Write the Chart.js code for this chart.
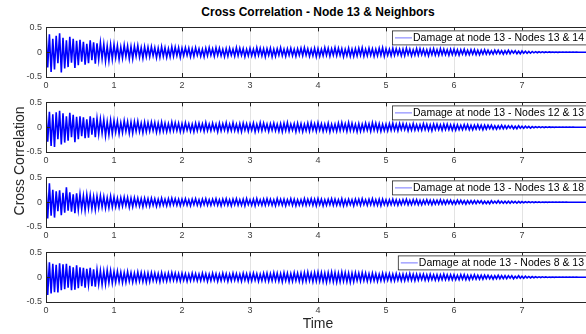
<!DOCTYPE html>
<html>
<head>
<meta charset="utf-8">
<script src="https://cdn.jsdelivr.net/npm/chart.js@4.4.1/dist/chart.umd.min.js"></script>
<style>
  html, body { margin: 0; padding: 0; background: #fff; overflow: hidden; }
  #wrap { position: relative; width: 586px; height: 334px; overflow: hidden;
          font-family: "Liberation Sans", Arial, sans-serif; }
  .panel { position: absolute; left: 0; width: 600px; height: 75px; }
  .title { position: absolute; left: 118px; width: 400px; top: 5px; text-align: center;
           font-weight: bold; font-size: 12px; color: #000; white-space: nowrap; }
  .xlabel { position: absolute; left: 268px; width: 100px; top: 315px; text-align: center;
            font-size: 14px; color: #262626; }
  .ylabel { position: absolute; left: 19px; top: 162px; width: 200px; margin-left: -100px;
            margin-top: -9px; text-align: center; font-size: 14px; color: #262626;
            transform: rotate(-90deg); white-space: nowrap; }
</style>
</head>
<body>
<div id="wrap">
  <div class="title">Cross Correlation - Node 13 &amp; Neighbors</div>
  <div class="panel" style="top:18px"><canvas id="c0" width="600" height="75"></canvas></div>
  <div class="panel" style="top:93px"><canvas id="c1" width="600" height="75"></canvas></div>
  <div class="panel" style="top:168px"><canvas id="c2" width="600" height="75"></canvas></div>
  <div class="panel" style="top:243px"><canvas id="c3" width="600" height="75"></canvas></div>
  <div class="ylabel">Cross Correlation</div>
  <div class="xlabel">Time</div>
</div>
<script>
// Sampling interval of the correlation sequences (seconds)
const TIME_STEP = 0.025;

const X_TICKS = [0, 1, 2, 3, 4, 5, 6, 7, 8];
const Y_TICKS = [-0.5, 0, 0.5];

const LEGEND_LABELS = [
  'Damage at node 13 - Nodes 13 & 14',
  'Damage at node 13 - Nodes 12 & 13',
  'Damage at node 13 - Nodes 13 & 18',
  'Damage at node 13 - Nodes 8 & 13'
];

// Nodes 13 & 14
const corr13_14 = [
  0.42,-0.31,0.36,-0.40,0.27,-0.35,0.33,-0.22,0.38,-0.41,
  0.29,-0.33,0.24,-0.30,0.31,-0.21,0.27,-0.32,0.23,-0.26,
  0.25,-0.19,0.21,-0.25,0.17,-0.22,0.24,-0.16,0.20,-0.23,
  0.18,-0.15,0.19,-0.13,0.16,-0.18,0.12,-0.17,0.15,-0.14,
  0.15,-0.11,0.13,-0.14,0.10,-0.12,0.14,-0.09,0.12,-0.13,
  0.11,-0.13,0.12,-0.08,0.13,-0.10,0.09,-0.12,0.11,-0.09,
  0.10,-0.09,0.11,-0.07,0.09,-0.11,0.08,-0.10,0.11,-0.08,
  0.09,-0.10,0.07,-0.09,0.11,-0.08,0.10,-0.07,0.09,-0.10,
  0.08,-0.07,0.09,-0.06,0.08,-0.09,0.07,-0.08,0.09,-0.06,
  0.07,-0.08,0.06,-0.09,0.08,-0.07,0.09,-0.06,0.07,-0.08,
  0.09,-0.06,0.08,-0.07,0.06,-0.09,0.07,-0.08,0.08,-0.06,
  0.06,-0.08,0.09,-0.07,0.08,-0.06,0.07,-0.09,0.06,-0.07,
  0.08,-0.07,0.06,-0.08,0.09,-0.06,0.08,-0.07,0.07,-0.09,
  0.07,-0.06,0.08,-0.09,0.06,-0.08,0.07,-0.06,0.09,-0.07,
  0.06,-0.08,0.07,-0.06,0.08,-0.07,0.06,-0.08,0.07,-0.06,
  0.08,-0.07,0.09,-0.06,0.07,-0.08,0.06,-0.07,0.08,-0.09,
  0.07,-0.08,0.06,-0.07,0.09,-0.06,0.08,-0.08,0.07,-0.06,
  0.09,-0.07,0.08,-0.06,0.07,-0.09,0.06,-0.07,0.08,-0.08,
  0.06,-0.08,0.07,-0.07,0.08,-0.06,0.09,-0.08,0.06,-0.07,
  0.08,-0.06,0.07,-0.08,0.06,-0.07,0.08,-0.06,0.09,-0.08,
  0.07,-0.06,0.06,-0.07,0.08,-0.06,0.07,-0.05,0.06,-0.07,
  0.06,-0.07,0.08,-0.05,0.06,-0.07,0.05,-0.06,0.07,-0.06,
  0.07,-0.05,0.06,-0.06,0.05,-0.07,0.06,-0.05,0.07,-0.06,
  0.05,-0.06,0.07,-0.05,0.06,-0.05,0.05,-0.06,0.06,-0.05,
  0.06,-0.05,0.05,-0.06,0.05,-0.04,0.06,-0.05,0.04,-0.05,
  0.05,-0.04,0.05,-0.05,0.04,-0.05,0.04,-0.04,0.05,-0.04,
  0.04,-0.04,0.03,-0.04,0.04,-0.03,0.04,-0.03,0.03,-0.04,
  0.03,-0.03,0.04,-0.03,0.03,-0.02,0.03,-0.03,0.02,-0.03,
  0.025,-0.02,0.02,-0.02,0.015,-0.02,0.015,-0.012,0.012,-0.01,
  0.01,-0.008,0.008,-0.007,0.006,-0.005,0.005,-0.004,0.004,-0.003,
  0.003,-0.003,0.002,-0.002,0.002,-0.002,0.001,-0.001,0.001,-0.001,
  0.001,-0.001,0.001,-0.001,0,0,0,0,0,0
];

// Nodes 12 & 13
const corr12_13 = [
  0.34,-0.29,0.31,-0.38,0.26,-0.40,0.30,-0.24,0.33,-0.35,
  0.28,-0.31,0.22,-0.27,0.29,-0.20,0.25,-0.30,0.21,-0.24,
  0.22,-0.18,0.20,-0.22,0.16,-0.21,0.22,-0.15,0.19,-0.20,
  0.17,-0.14,0.16,-0.12,0.15,-0.17,0.11,-0.15,0.14,-0.13,
  0.13,-0.10,0.12,-0.13,0.09,-0.11,0.13,-0.08,0.11,-0.12,
  0.10,-0.12,0.11,-0.08,0.12,-0.09,0.08,-0.11,0.10,-0.09,
  0.09,-0.08,0.10,-0.07,0.09,-0.10,0.08,-0.09,0.10,-0.08,
  0.08,-0.09,0.07,-0.08,0.10,-0.07,0.09,-0.07,0.08,-0.09,
  0.07,-0.08,0.09,-0.06,0.07,-0.08,0.06,-0.09,0.08,-0.07,
  0.08,-0.06,0.07,-0.08,0.09,-0.07,0.06,-0.07,0.08,-0.06,
  0.06,-0.09,0.08,-0.07,0.07,-0.06,0.09,-0.08,0.06,-0.07,
  0.09,-0.07,0.06,-0.08,0.07,-0.09,0.08,-0.06,0.07,-0.08,
  0.07,-0.06,0.08,-0.09,0.06,-0.07,0.09,-0.07,0.08,-0.06,
  0.06,-0.08,0.07,-0.06,0.08,-0.07,0.06,-0.08,0.07,-0.09,
  0.08,-0.07,0.09,-0.08,0.06,-0.06,0.07,-0.09,0.08,-0.07,
  0.07,-0.09,0.06,-0.07,0.08,-0.08,0.09,-0.06,0.07,-0.08,
  0.09,-0.06,0.07,-0.08,0.06,-0.07,0.08,-0.09,0.06,-0.07,
  0.06,-0.08,0.08,-0.07,0.09,-0.06,0.07,-0.08,0.09,-0.07,
  0.08,-0.07,0.06,-0.09,0.07,-0.08,0.06,-0.07,0.08,-0.06,
  0.07,-0.08,0.09,-0.06,0.08,-0.07,0.07,-0.08,0.06,-0.07,
  0.06,-0.07,0.07,-0.06,0.08,-0.06,0.06,-0.07,0.07,-0.05,
  0.07,-0.05,0.06,-0.07,0.05,-0.06,0.07,-0.06,0.05,-0.06,
  0.05,-0.06,0.07,-0.05,0.06,-0.06,0.05,-0.07,0.06,-0.05,
  0.06,-0.05,0.05,-0.06,0.06,-0.05,0.06,-0.05,0.05,-0.06,
  0.05,-0.06,0.05,-0.05,0.04,-0.05,0.05,-0.04,0.05,-0.05,
  0.04,-0.05,0.04,-0.04,0.05,-0.04,0.04,-0.05,0.04,-0.04,
  0.04,-0.03,0.04,-0.04,0.03,-0.04,0.03,-0.03,0.04,-0.03,
  0.03,-0.03,0.03,-0.02,0.03,-0.03,0.02,-0.03,0.03,-0.02,
  0.02,-0.02,0.02,-0.015,0.015,-0.02,0.012,-0.012,0.01,-0.01,
  0.009,-0.008,0.007,-0.007,0.006,-0.005,0.005,-0.004,0.003,-0.003,
  0.003,-0.002,0.002,-0.002,0.002,-0.001,0.001,-0.001,0.001,-0.001,
  0.001,-0.001,0,0,0,0,0,0,0,0
];

// Nodes 13 & 18
const corr13_18 = [
  0.30,-0.33,0.38,-0.27,0.25,-0.31,0.22,-0.18,0.24,-0.26,
  0.19,-0.21,0.30,-0.17,0.20,-0.19,0.16,-0.22,0.18,-0.15,
  0.16,-0.14,0.13,-0.16,0.15,-0.12,0.14,-0.13,0.11,-0.15,
  0.12,-0.11,0.13,-0.10,0.11,-0.12,0.09,-0.11,0.12,-0.10,
  0.10,-0.09,0.08,-0.10,0.09,-0.08,0.10,-0.07,0.09,-0.10,
  0.08,-0.09,0.09,-0.07,0.08,-0.08,0.07,-0.09,0.08,-0.07,
  0.07,-0.08,0.08,-0.06,0.07,-0.08,0.06,-0.07,0.08,-0.06,
  0.06,-0.07,0.07,-0.06,0.08,-0.05,0.07,-0.06,0.06,-0.07,
  0.06,-0.05,0.07,-0.06,0.05,-0.07,0.06,-0.05,0.07,-0.06,
  0.05,-0.07,0.06,-0.05,0.07,-0.06,0.05,-0.06,0.06,-0.05,
  0.07,-0.06,0.05,-0.07,0.06,-0.05,0.07,-0.06,0.05,-0.07,
  0.06,-0.05,0.07,-0.06,0.05,-0.06,0.06,-0.07,0.07,-0.05,
  0.05,-0.06,0.06,-0.07,0.07,-0.05,0.05,-0.06,0.06,-0.06,
  0.07,-0.05,0.06,-0.06,0.05,-0.07,0.07,-0.05,0.06,-0.06,
  0.06,-0.07,0.05,-0.05,0.07,-0.06,0.06,-0.07,0.05,-0.06,
  0.05,-0.06,0.07,-0.06,0.06,-0.05,0.07,-0.06,0.06,-0.07,
  0.07,-0.05,0.06,-0.07,0.05,-0.06,0.06,-0.05,0.07,-0.06,
  0.06,-0.06,0.05,-0.06,0.07,-0.07,0.05,-0.06,0.06,-0.05,
  0.05,-0.07,0.06,-0.05,0.06,-0.06,0.07,-0.05,0.05,-0.06,
  0.06,-0.05,0.07,-0.06,0.05,-0.06,0.06,-0.07,0.06,-0.05,
  0.05,-0.06,0.05,-0.05,0.06,-0.05,0.05,-0.06,0.04,-0.05,
  0.05,-0.04,0.06,-0.05,0.04,-0.05,0.05,-0.04,0.05,-0.05,
  0.04,-0.05,0.04,-0.04,0.05,-0.04,0.04,-0.05,0.04,-0.04,
  0.04,-0.04,0.05,-0.04,0.04,-0.04,0.04,-0.03,0.04,-0.04,
  0.03,-0.04,0.04,-0.03,0.04,-0.03,0.03,-0.04,0.03,-0.03,
  0.03,-0.03,0.03,-0.03,0.03,-0.02,0.03,-0.03,0.02,-0.03,
  0.02,-0.03,0.03,-0.02,0.02,-0.02,0.03,-0.02,0.02,-0.02,
  0.02,-0.02,0.02,-0.02,0.02,-0.015,0.015,-0.02,0.015,-0.015,
  0.012,-0.012,0.01,-0.01,0.01,-0.008,0.008,-0.008,0.006,-0.006,
  0.005,-0.005,0.004,-0.004,0.003,-0.003,0.003,-0.002,0.002,-0.002,
  0.002,-0.001,0.001,-0.001,0.001,-0.001,0.001,0,0,0,
  0,0,0,0,0,0,0,0,0,0
];

// Nodes 8 & 13
const corr8_13 = [
  0.45,-0.36,0.30,-0.33,0.27,-0.30,0.25,-0.31,0.28,-0.26,
  0.26,-0.24,0.27,-0.21,0.23,-0.26,0.20,-0.25,0.24,-0.22,
  0.20,-0.18,0.19,-0.21,0.17,-0.15,0.19,-0.18,0.16,-0.19,
  0.15,-0.14,0.13,-0.15,0.12,-0.14,0.14,-0.11,0.13,-0.12,
  0.11,-0.10,0.12,-0.09,0.10,-0.11,0.09,-0.10,0.11,-0.08,
  0.09,-0.10,0.08,-0.09,0.10,-0.08,0.09,-0.09,0.08,-0.10,
  0.08,-0.09,0.09,-0.07,0.08,-0.08,0.07,-0.09,0.09,-0.07,
  0.07,-0.08,0.08,-0.07,0.09,-0.06,0.08,-0.07,0.07,-0.08,
  0.08,-0.06,0.07,-0.08,0.06,-0.07,0.08,-0.06,0.07,-0.07,
  0.06,-0.07,0.08,-0.06,0.07,-0.08,0.06,-0.07,0.08,-0.06,
  0.07,-0.08,0.06,-0.07,0.08,-0.06,0.07,-0.08,0.06,-0.07,
  0.08,-0.06,0.07,-0.07,0.06,-0.08,0.08,-0.06,0.07,-0.08,
  0.07,-0.07,0.08,-0.06,0.07,-0.08,0.06,-0.07,0.08,-0.07,
  0.08,-0.08,0.07,-0.07,0.09,-0.07,0.08,-0.08,0.07,-0.09,
  0.09,-0.07,0.08,-0.09,0.07,-0.08,0.09,-0.07,0.08,-0.08,
  0.08,-0.09,0.09,-0.08,0.10,-0.07,0.08,-0.09,0.09,-0.08,
  0.10,-0.08,0.09,-0.09,0.08,-0.10,0.09,-0.08,0.10,-0.09,
  0.09,-0.10,0.08,-0.09,0.10,-0.08,0.09,-0.09,0.08,-0.10,
  0.08,-0.09,0.09,-0.07,0.08,-0.08,0.09,-0.07,0.08,-0.08,
  0.07,-0.08,0.08,-0.07,0.07,-0.08,0.06,-0.07,0.08,-0.07,
  0.07,-0.06,0.07,-0.07,0.06,-0.07,0.07,-0.06,0.06,-0.07,
  0.06,-0.07,0.06,-0.06,0.07,-0.06,0.06,-0.07,0.06,-0.06,
  0.06,-0.05,0.06,-0.06,0.05,-0.06,0.06,-0.05,0.05,-0.06,
  0.05,-0.06,0.05,-0.05,0.06,-0.05,0.05,-0.05,0.05,-0.05,
  0.05,-0.05,0.04,-0.05,0.05,-0.04,0.05,-0.05,0.04,-0.05,
  0.04,-0.04,0.05,-0.04,0.04,-0.04,0.04,-0.04,0.04,-0.03,
  0.04,-0.03,0.03,-0.04,0.03,-0.03,0.04,-0.03,0.03,-0.03,
  0.03,-0.03,0.03,-0.02,0.03,-0.03,0.02,-0.02,0.03,-0.02,
  0.02,-0.02,0.02,-0.015,0.015,-0.015,0.012,-0.012,0.01,-0.01,
  0.008,-0.008,0.007,-0.006,0.006,-0.005,0.004,-0.004,0.003,-0.003,
  0.003,-0.002,0.002,-0.002,0.002,-0.001,0.001,-0.001,0.001,-0.001,
  0.001,-0.001,0.001,0,0,0,0,0,0,0
];

const SERIES = [corr13_14, corr12_13, corr13_18, corr8_13];

const AXIS_COLOR = '#262626';
const LINE_COLOR = '#0000ff';

// Box outline with inward tick marks, plus a boxed legend in the upper right corner
const boxPlugin = {
  id: 'boxAxes',
  afterDraw(chart) {
    const { ctx, chartArea: a, scales } = chart;
    ctx.save();
    ctx.strokeStyle = AXIS_COLOR;
    ctx.lineWidth = 1;
    ctx.strokeRect(Math.round(a.left) + 0.5, Math.round(a.top) + 0.5,
                   Math.round(a.right - a.left), Math.round(a.bottom - a.top));
    ctx.beginPath();
    X_TICKS.forEach(v => {
      const x = Math.round(scales.x.getPixelForValue(v)) + 0.5;
      ctx.moveTo(x, a.top); ctx.lineTo(x, a.top + 4);
      ctx.moveTo(x, a.bottom); ctx.lineTo(x, a.bottom - 4);
    });
    Y_TICKS.forEach(v => {
      const y = Math.round(scales.y.getPixelForValue(v)) + 0.5;
      ctx.moveTo(a.left, y); ctx.lineTo(a.left + 4, y);
    });
    ctx.stroke();

    // legend
    const label = chart.data.datasets[0].label;
    ctx.font = '10.5px "Liberation Sans", Arial, sans-serif';
    const tw = ctx.measureText(label).width;
    const right = a.right - 3;
    const left = right - tw - 24;
    const top = a.top + 3;
    const h = 14;
    ctx.fillStyle = '#fff';
    ctx.fillRect(left, top, right - left, h);
    ctx.strokeStyle = AXIS_COLOR;
    ctx.lineWidth = 0.8;
    ctx.strokeRect(left + 0.5, top + 0.5, right - left, h);
    ctx.strokeStyle = 'rgba(60,60,255,0.7)';
    ctx.lineWidth = 1;
    ctx.beginPath();
    ctx.moveTo(left + 3, top + h / 2 + 0.5);
    ctx.lineTo(left + 20, top + h / 2 + 0.5);
    ctx.stroke();
    ctx.fillStyle = '#000';
    ctx.textBaseline = 'middle';
    ctx.textAlign = 'left';
    ctx.fillText(label, left + 21, top + h / 2 + 1);
    ctx.restore();
  }
};

SERIES.forEach((values, i) => {
  const points = values.map((v, k) => ({ x: k * TIME_STEP, y: v }));
  new Chart(document.getElementById('c' + i), {
    type: 'line',
    data: {
      datasets: [{
        label: LEGEND_LABELS[i],
        data: points,
        borderColor: LINE_COLOR,
        borderWidth: 1.6,
        pointRadius: 0,
        tension: 0,
        fill: false
      }]
    },
    options: {
      responsive: false,
      animation: false,
      devicePixelRatio: 1,
      layout: { padding: { left: 0, right: 10, top: 5, bottom: 0 } },
      plugins: { legend: { display: false }, tooltip: { enabled: false } },
      scales: {
        x: {
          type: 'linear', min: 0, max: 8,
          afterFit: s => { s.height = 16; },
          afterBuildTicks: s => { s.ticks = X_TICKS.map(v => ({ value: v })); },
          grid: { color: '#e3e3e3', lineWidth: 1, drawTicks: false },
          border: { display: false },
          ticks: { color: '#404040', padding: 3, maxRotation: 0,
                   font: { size: 9, family: '"Liberation Sans", Arial, sans-serif' } }
        },
        y: {
          min: -0.5, max: 0.5,
          afterFit: s => { s.width = 46; },
          afterBuildTicks: s => { s.ticks = Y_TICKS.map(v => ({ value: v })); },
          grid: { display: false, drawTicks: false },
          border: { display: false },
          ticks: { color: '#404040', padding: 4,
                   font: { size: 9, family: '"Liberation Sans", Arial, sans-serif' },
                   callback: v => String(v) }
        }
      }
    },
    plugins: [boxPlugin]
  });
});
</script>
</body>
</html>
